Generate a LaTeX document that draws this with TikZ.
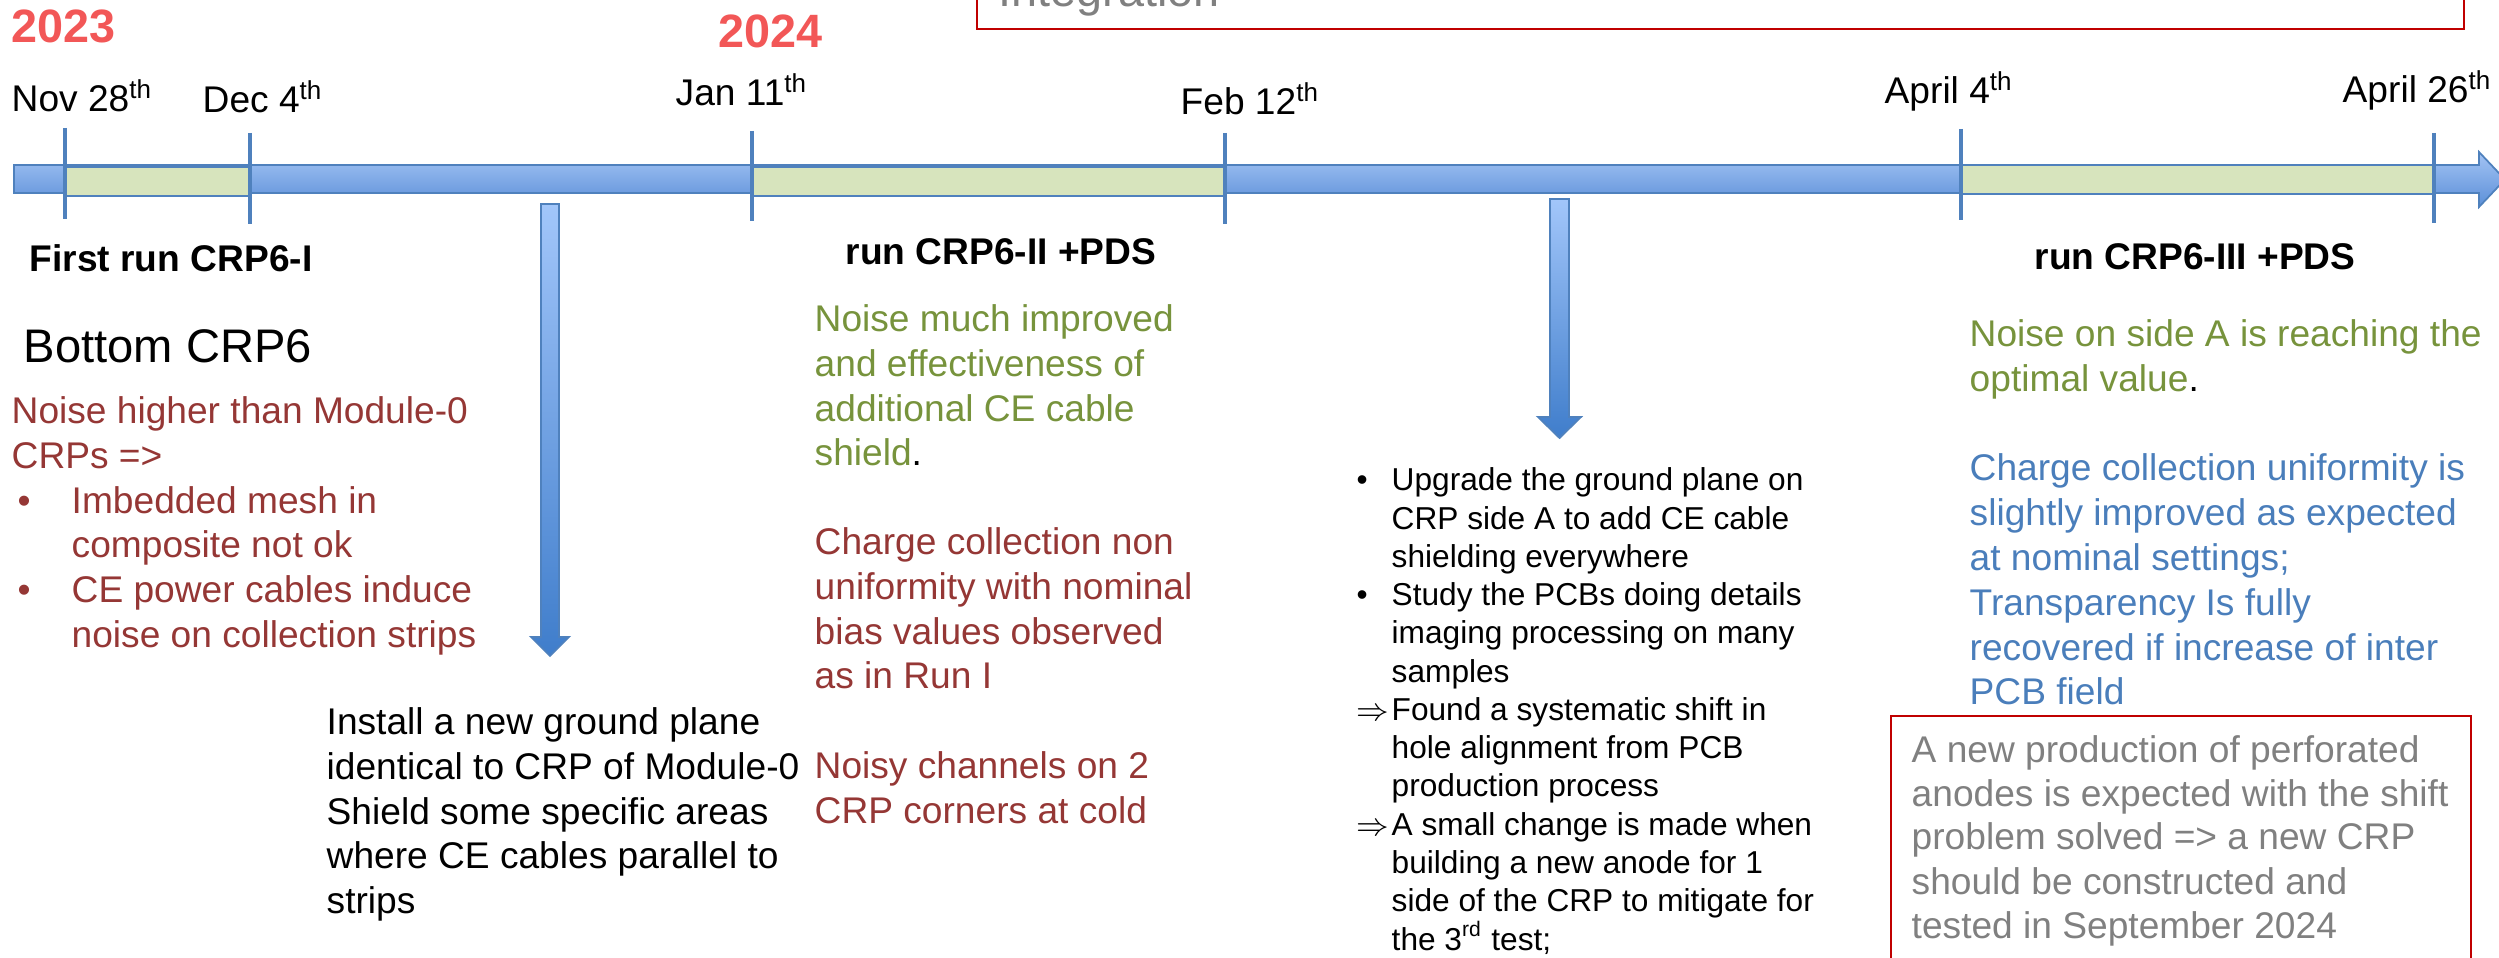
\documentclass[tikz,border=0pt]{standalone}
\usepackage{fontspec}
\setmainfont{Liberation Sans}
\usetikzlibrary{positioning}

\definecolor{tickblue}{HTML}{4F81BD}
\definecolor{bartop}{HTML}{A4C4F4}
\definecolor{barbottom}{HTML}{5B8FD8}
\definecolor{arrowtop}{HTML}{A2C6FA}
\definecolor{arrowbottom}{HTML}{3F7DCB}
\definecolor{periodgreen}{HTML}{D7E4BD}
\definecolor{noisered}{HTML}{953735}
\definecolor{goodgreen}{HTML}{77933C}
\definecolor{infoblue}{HTML}{4A7EBB}
\definecolor{notegrey}{HTML}{808080}
\definecolor{yearred}{HTML}{F25757}
\definecolor{boxred}{HTML}{C00000}

\tikzset{
  txt/.style={anchor=base west, inner sep=0pt, font=\fontsize{10.56}{12.7}\selectfont},
  smalltxt/.style={txt, font=\fontsize{9}{10.9}\selectfont},
  runlbl/.style={txt, font=\fontsize{10.56}{12.7}\selectfont\bfseries},
  yearlbl/.style={txt, text=yearred, font=\fontsize{13.3}{16}\selectfont\bfseries},
  tick/.style={draw=tickblue, line width=1.4pt},
  period/.style={fill=periodgreen, draw=tickblue, line width=0.8pt},
  blockarrow/.style={top color=arrowtop, bottom color=arrowbottom, draw=tickblue, line width=0.5pt},
}

\begin{document}
\begin{tikzpicture}[x=0.01cm, y=-0.01cm]
    \useasboundingbox (0,0) rectangle (2499,958);
    \clip (0,0) rectangle (2499,958);

    % Box at the top, cut by the page
    \draw[boxred, line width=0.6pt, fill=white] (977,-80) rectangle (2464,29);
    \node[txt, text=notegrey, font=\fontsize{13.3}{16}\selectfont] (integ) at (998,7) {Integration};

    % Years
    \node[yearlbl] (y2023) at (11,43) {2023};
    \node[yearlbl] (y2024) at (718,48) {2024};

    % Draw time line
    \shadedraw[top color=bartop, bottom color=barbottom, draw=tickblue, line width=0.5pt]
      (14,165) -- (2479,165) -- (2479,152) -- (2505,179.5) -- (2479,207) -- (2479,193) -- (14,193) -- cycle;

    % Runs
    \foreach \a/\b/\t/\u in {65/250/167/196, 752/1225/167/196, 1961/2434/165/194} {
      \draw[period] (\a,\t) rectangle (\b,\u);
    }

    % Ticks and dates
    \foreach \x/\t/\u/\lx/\ly/\d in {65/128/219/11/112/{Nov 28\textsuperscript{th}},
        250/133/224/202/113/{Dec 4\textsuperscript{th}},
        752/131/221/675/106/{Jan 11\textsuperscript{th}},
        1225/133/224/1180/115/{Feb 12\textsuperscript{th}},
        1961/129/220/1884/104/{April 4\textsuperscript{th}},
        2434/133/223/2342/103/{April 26\textsuperscript{th}}} {
      \draw[tick] (\x,\t) -- (\x,\u);
      \node[txt] (date-\x) at (\lx,\ly) {\d};
    }

    % Run names
    \node[runlbl] (run1) at (29,272) {First run CRP6-I};
    \node[runlbl] (run2) at (845,265) {run CRP6-II +PDS};
    \node[runlbl] (run3) at (2034,270) {run CRP6-III +PDS};

    % Down arrows
    \shadedraw[blockarrow] (541,204) -- (559,204) -- (559,637) -- (569,637) -- (550,656) -- (531,637) -- (541,637) -- cycle;
    \shadedraw[blockarrow] (1550,199) -- (1569,199) -- (1569,417) -- (1581,417) -- (1559.5,438) -- (1538,417) -- (1550,417) -- cycle;

    % Run I
    \node[txt, font=\fontsize{13.4}{16}\selectfont] (bottom) at (23,363) {Bottom CRP6};
    \foreach \x/\t [count=\k from 0] in {11/{Noise higher than Module-0}, 11/{CRPs =>},
        71/{Imbedded mesh in}, 71/{composite not ok}, 71/{CE power cables induce}, 71/{noise on collection strips}} {
      \node[txt, text=noisered] (r1-\k) at (\x,{424+44.6*\k}) {\t};
    }
    \node[txt, text=noisered] (b1-a) at (17,513.2) {\textbullet};
    \node[txt, text=noisered] (b1-b) at (17,602.4) {\textbullet};

    \foreach \t [count=\k from 0] in {Install a new ground plane, identical to CRP of Module-0,
        Shield some specific areas, where CE cables parallel to, strips} {
      \node[txt] (fix1-\k) at (326,{735+44.5*\k}) {\t};
    }

    % Run II
    \foreach \t [count=\k from 0] in {Noise much improved, and effectiveness of,
        additional CE cable, shield\textcolor{black}{.}} {
      \node[txt, text=goodgreen] (g2-\k) at (814,{332+44.6*\k}) {\t};
    }
    \foreach \t [count=\k from 0] in {Charge collection non, uniformity with nominal,
        bias values observed, as in Run I} {
      \node[txt, text=noisered] (r2-\k) at (814,{555+44.6*\k}) {\t};
    }
    \node[txt, text=noisered] (n2-0) at (814,778) {Noisy channels on 2};
    \node[txt, text=noisered] (n2-1) at (814,823) {CRP corners at cold};

    % Actions after run II
    \foreach \m/\t [count=\k from 0] in {{\textbullet}/{Upgrade the ground plane on}, {}/{CRP side A to add CE cable},
        {}/{shielding everywhere}, {\textbullet}/{Study the PCBs doing details},
        {}/{imaging processing on many}, {}/{samples},
        {$\Rightarrow$}/{Found a systematic shift in}, {}/{hole alignment from PCB},
        {}/{production process}, {$\Rightarrow$}/{A small change is made when},
        {}/{building a new anode for 1}, {}/{side of the CRP to mitigate for},
        {}/{the 3\textsuperscript{rd} test;}} {
      \node[smalltxt] (fix2-\k) at (1391,{491+38.25*\k}) {\t};
      \node[smalltxt] (mark-\k) at (1356,{491+38.25*\k}) {\m};
    }

    % Run III
    \node[txt, text=goodgreen] (g3-0) at (1969,347) {Noise on side A is reaching the};
    \node[txt, text=goodgreen] (g3-1) at (1969,392) {optimal value\textcolor{black}{.}};
    \foreach \t [count=\k from 0] in {Charge collection uniformity is, slightly improved as expected,
        at nominal settings;, Transparency Is fully, recovered if increase of inter, PCB field} {
      \node[txt, text=infoblue] (b3-\k) at (1969,{481+44.8*\k}) {\t};
    }

    % Outlook box
    \draw[boxred, line width=0.5pt] (1891,716) rectangle (2471,1020);
    \foreach \t [count=\k from 0] in {A new production of perforated, anodes is expected with the shift,
        problem solved => a new CRP, should be constructed and, tested in September 2024} {
      \node[txt, text=notegrey] (note-\k) at (1911,{762+44*\k}) {\t};
    }

\end{tikzpicture}
\end{document}
